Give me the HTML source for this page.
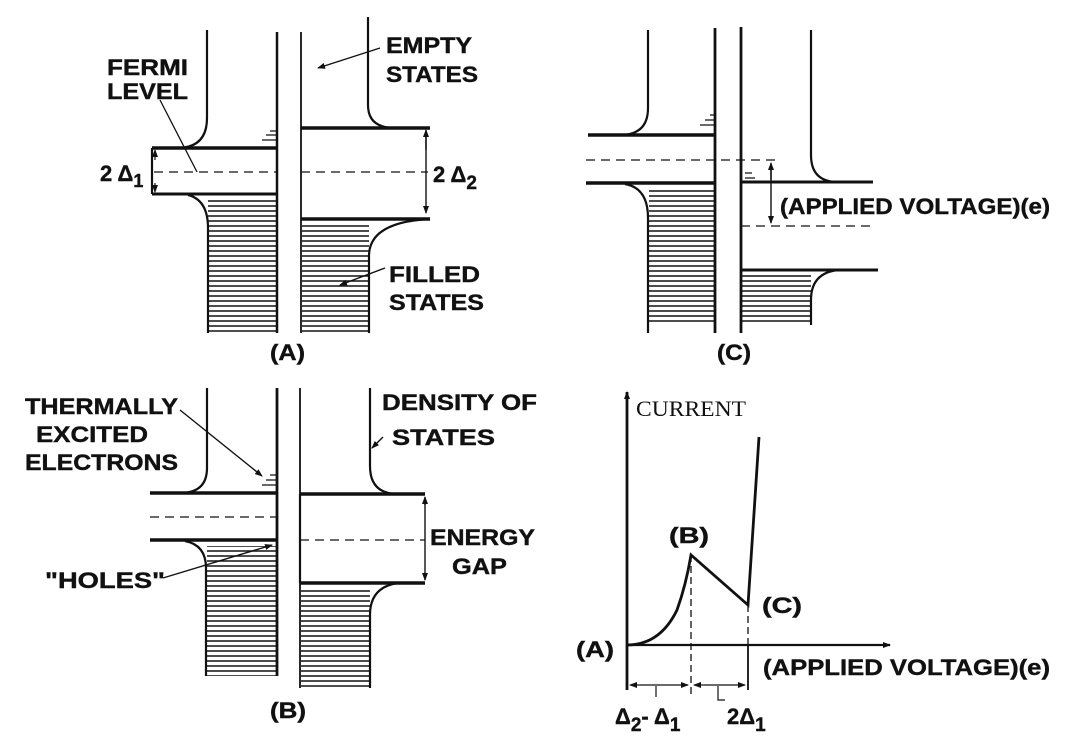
<!DOCTYPE html>
<html><head><meta charset="utf-8"><style>
html,body{margin:0;padding:0;background:#fff;}
svg{display:block}
text{font-family:"Liberation Sans",sans-serif;font-weight:bold;fill:#111;font-size:22px;stroke:#111;stroke-width:0.4}
</style></head><body>
<svg width="1080" height="753" viewBox="0 0 1080 753" xmlns="http://www.w3.org/2000/svg">
<defs>
<pattern id="h" width="10" height="5" patternUnits="userSpaceOnUse"><line x1="0" y1="1" x2="10" y2="1" stroke="#111" stroke-width="1.5"/></pattern>
<marker id="ar" markerWidth="8" markerHeight="8" refX="7" refY="4" orient="auto" markerUnits="userSpaceOnUse"><path d="M0,1 L8,4 L0,7 z" fill="#111"/></marker>
</defs>
<g stroke="#111" fill="none" stroke-width="2.2">
<!-- PANEL A -->
<path d="M207,30 V118 Q207,148 177,148 H152"/>
<path d="M152,148 H277" stroke-width="3.5"/>
<path d="M152,194 H277" stroke-width="3"/>
<path d="M152,148 V194"/>
<path d="M154,172 H277" stroke-dasharray="9,6" stroke-width="1.3"/>
<path d="M208,200 H276 V333 H208 Z" fill="url(#h)" stroke="none"/>
<path d="M188,195 Q208,200 208,228 V333"/>
<line x1="277" y1="32" x2="277" y2="333" stroke-width="2.5"/>
<line x1="301" y1="32" x2="301" y2="333" stroke-width="1.8"/>
<path d="M368,17 V105 Q368,128 395,128 H430"/>
<path d="M301,128 H430" stroke-width="3.5"/>
<path d="M301,219 H430" stroke-width="3.5"/>
<path d="M301,172 H428" stroke-dasharray="9,6" stroke-width="1.3"/>
<path d="M302,224 H369 V333 H302 Z" fill="url(#h)" stroke="none"/>
<path d="M430,219 Q370,222 369,255 V333"/>
<line x1="426" y1="134" x2="426" y2="213" stroke-width="1.4" marker-end="url(#ar)"/>
<line x1="426" y1="150" x2="426" y2="130" stroke-width="1.4" marker-end="url(#ar)"/>
<line x1="155" y1="160" x2="155" y2="150" stroke-width="1.2" marker-end="url(#ar)"/>
<line x1="155" y1="183" x2="155" y2="192" stroke-width="1.2" marker-end="url(#ar)"/>
<line x1="380" y1="48" x2="318" y2="68" stroke-width="1.4" marker-end="url(#ar)"/>
<line x1="160" y1="100" x2="197" y2="172" stroke-width="1.3"/>
<line x1="385" y1="268" x2="340" y2="285" stroke-width="1.4" marker-end="url(#ar)"/>
<path d="M262,140 H277 M266,135 H277 M270,131 H277" stroke-width="1.2"/>
<!-- PANEL C -->
<path d="M648,30 V108 Q648,135 620,135 H588"/>
<path d="M588,135 H715" stroke-width="3.5"/>
<path d="M586,183 H715" stroke-width="3.5"/>
<path d="M586,160 H778" stroke-dasharray="9,6" stroke-width="1.3"/>
<path d="M649,190 H715 V325 H649 Z" fill="url(#h)" stroke="none"/>
<path d="M625,184 Q648,188 648,218 V333"/>
<line x1="715" y1="28" x2="715" y2="333" stroke-width="2.8"/>
<line x1="741" y1="27" x2="741" y2="333" stroke-width="2.8"/>
<path d="M811,30 V155 Q811,182 838,182 H873"/>
<path d="M741,182 H873" stroke-width="3"/>
<path d="M741,226 H875" stroke-dasharray="9,6" stroke-width="1.3"/>
<line x1="771" y1="180" x2="771" y2="163" stroke-width="1.4" marker-end="url(#ar)"/>
<line x1="771" y1="170" x2="771" y2="223" stroke-width="1.4" marker-end="url(#ar)"/>
<path d="M741,270 H878" stroke-width="3"/>
<path d="M742,275 H811 V325 H742 Z" fill="url(#h)" stroke="none"/>
<path d="M838,270 Q811,273 811,300 V325"/>
<path d="M700,125 H715 M705,120 H715 M710,115 H715 M745,173 H752 M745,178 H755" stroke-width="1.2"/>
<!-- PANEL B -->
<path d="M207,388 V468 Q207,493 180,493 H150"/>
<path d="M150,493 H277" stroke-width="3.5"/>
<path d="M150,540 H277" stroke-width="3.5"/>
<path d="M150,517 H277" stroke-dasharray="9,6" stroke-width="1.3"/>
<path d="M207,546 H276 V676 H207 Z" fill="url(#h)" stroke="none"/>
<path d="M185,541 Q206,545 206,568 V676"/>
<line x1="277" y1="388" x2="277" y2="676" stroke-width="2.8"/>
<line x1="300" y1="388" x2="300" y2="688" stroke-width="1.8"/>
<path d="M370,388 V466 Q370,494 398,494 H425"/>
<path d="M300,494 H425" stroke-width="3.5"/>
<path d="M300,583 H425" stroke-width="3.5"/>
<path d="M300,494 V583"/>
<path d="M300,540 H425" stroke-dasharray="9,6" stroke-width="1.3"/>
<line x1="425" y1="505" x2="425" y2="497" stroke-width="1.4" marker-end="url(#ar)"/>
<line x1="425" y1="500" x2="425" y2="580" stroke-width="1.4" marker-end="url(#ar)"/>
<path d="M301,588 H370 V688 H301 Z" fill="url(#h)" stroke="none"/>
<path d="M398,583 Q370,587 370,615 V688"/>
<line x1="180" y1="410" x2="262" y2="476" stroke-width="1.4" marker-end="url(#ar)"/>
<line x1="163" y1="578" x2="272" y2="545" stroke-width="1.4" marker-end="url(#ar)"/>
<line x1="383" y1="437" x2="372" y2="448" stroke-width="1.4" marker-end="url(#ar)"/>
<path d="M262,485 H277 M266,480 H277 M270,475 H277" stroke-width="1.2"/>
<!-- GRAPH -->
<line x1="627" y1="690" x2="627" y2="392" stroke-width="2.8" marker-end="url(#ar)"/>
<line x1="627" y1="645" x2="890" y2="645" stroke-width="2.2" marker-end="url(#ar)"/>
<path d="M627,645 Q660,645 677,610 Q686,585 691,555 L748,605 L759,437" stroke-width="2.8"/>
<line x1="691" y1="555" x2="691" y2="697" stroke-dasharray="7,4" stroke-width="1.3"/>
<line x1="748" y1="605" x2="748" y2="645" stroke-dasharray="7,4" stroke-width="1.3"/>
<line x1="748" y1="645" x2="748" y2="690" stroke-width="1.8"/>
<line x1="640" y1="685" x2="630" y2="685" stroke-width="1.2" marker-end="url(#ar)"/>
<line x1="640" y1="685" x2="688" y2="685" stroke-width="1.2" marker-end="url(#ar)"/>
<line x1="705" y1="685" x2="694" y2="685" stroke-width="1.2" marker-end="url(#ar)"/>
<line x1="705" y1="685" x2="745" y2="685" stroke-width="1.2" marker-end="url(#ar)"/>
<path d="M656,686 V697 M718,686 V700 H725" stroke-width="1.2"/>
</g>
<!-- labels -->
<text x="107" y="75" textLength="81" lengthAdjust="spacingAndGlyphs">FERMI</text>
<text x="107" y="99" textLength="81" lengthAdjust="spacingAndGlyphs">LEVEL</text>
<text x="386" y="53" textLength="86" lengthAdjust="spacingAndGlyphs">EMPTY</text>
<text x="386" y="82" textLength="92" lengthAdjust="spacingAndGlyphs">STATES</text>
<text x="100" y="181" font-size="22">2 Δ<tspan font-size="18" dy="6">1</tspan></text>
<text x="433" y="182" font-size="23">2 Δ<tspan font-size="19" dy="7">2</tspan></text>
<text x="389" y="282" textLength="91" lengthAdjust="spacingAndGlyphs">FILLED</text>
<text x="389" y="310" textLength="95" lengthAdjust="spacingAndGlyphs">STATES</text>
<text x="270" y="360" textLength="35" lengthAdjust="spacingAndGlyphs">(A)</text>
<text x="780" y="214" textLength="270" lengthAdjust="spacingAndGlyphs">(APPLIED VOLTAGE)(e)</text>
<text x="717" y="360" textLength="34" lengthAdjust="spacingAndGlyphs">(C)</text>
<text x="25" y="414" textLength="153" lengthAdjust="spacingAndGlyphs">THERMALLY</text>
<text x="36" y="442" textLength="112" lengthAdjust="spacingAndGlyphs">EXCITED</text>
<text x="25" y="470" textLength="153" lengthAdjust="spacingAndGlyphs">ELECTRONS</text>
<text x="382" y="410" textLength="155" lengthAdjust="spacingAndGlyphs">DENSITY OF</text>
<text x="392" y="445" textLength="103" lengthAdjust="spacingAndGlyphs">STATES</text>
<text x="430" y="545" textLength="105" lengthAdjust="spacingAndGlyphs">ENERGY</text>
<text x="452" y="574" textLength="55" lengthAdjust="spacingAndGlyphs">GAP</text>
<text x="45" y="588" textLength="120" lengthAdjust="spacingAndGlyphs">"HOLES"</text>
<text x="270" y="718" textLength="36" lengthAdjust="spacingAndGlyphs">(B)</text>
<text x="636" y="416" style="font-family:'Liberation Serif',serif;font-weight:normal;font-size:22px;stroke:none" textLength="110" lengthAdjust="spacingAndGlyphs">CURRENT</text>
<text x="669" y="543" textLength="40" lengthAdjust="spacingAndGlyphs">(B)</text>
<text x="762" y="613" textLength="40" lengthAdjust="spacingAndGlyphs">(C)</text>
<text x="576" y="657" textLength="38" lengthAdjust="spacingAndGlyphs">(A)</text>
<text x="763" y="675" textLength="287" lengthAdjust="spacingAndGlyphs">(APPLIED VOLTAGE)(e)</text>
<text x="615" y="724" font-size="23">Δ<tspan font-size="19" dy="7">2</tspan><tspan dy="-7">- Δ</tspan><tspan font-size="19" dy="7">1</tspan></text>
<text x="727" y="724" font-size="23">2Δ<tspan font-size="19" dy="7">1</tspan></text>
</svg>
</body></html>
